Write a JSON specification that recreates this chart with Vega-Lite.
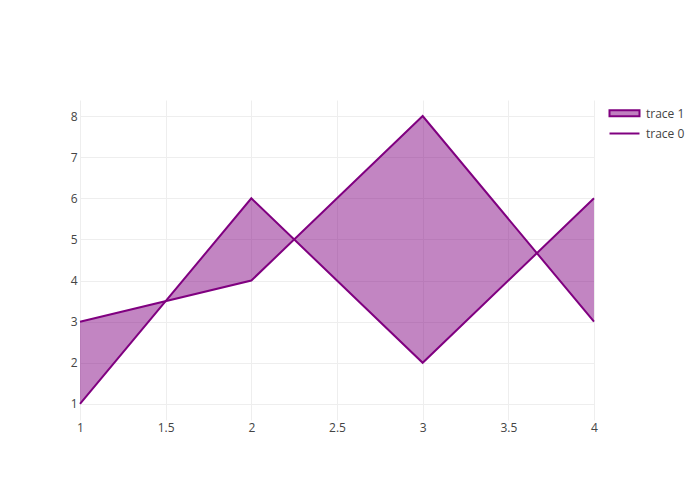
{
  "$schema": "https://vega.github.io/schema/vega-lite/v6.json",
  "width": 514,
  "height": 320,
  "autosize": {"type": "none"},
  "padding": {"left": 80, "top": 100, "right": 106, "bottom": 80},
  "background": "white",
  "config": {
    "view": {"stroke": null},
    "font": "Open Sans",
    "axis": {"labelFont": "Open Sans", "labelFontSize": 12, "labelColor": "#444", "gridColor": "#eeeeee", "gridWidth": 1, "domain": false, "ticks": false, "title": null, "labelFlush": false},
    "legend": {"labelFont": "Open Sans", "labelFontSize": 12, "labelColor": "#444"}
  },
  "data": {"values": [
    {"x": 1, "trace0": 3, "trace1": 1},
    {"x": 2, "trace0": 4, "trace1": 6},
    {"x": 3, "trace0": 8, "trace1": 2},
    {"x": 4, "trace0": 3, "trace1": 6}
  ]},
  "layer": [
    {
      "mark": {"type": "area", "color": "purple", "opacity": 0.48},
      "encoding": {
        "x": {"field": "x", "type": "quantitative", "scale": {"domain": [1, 4], "nice": false, "zero": false}, "axis": {"values": [1, 1.5, 2, 2.5, 3, 3.5, 4], "labelPadding": 2, "format": "~g"}},
        "y": {"field": "trace1", "type": "quantitative", "scale": {"domain": [0.61, 8.39], "nice": false, "zero": false}, "axis": {"values": [1, 2, 3, 4, 5, 6, 7, 8], "labelPadding": 3}},
        "y2": {"field": "trace0"}
      }
    },
    {
      "transform": [{"fold": ["trace0", "trace1"], "as": ["key", "val"]},
                    {"calculate": "datum.key === 'trace0' ? 'trace 0' : 'trace 1'", "as": "series"}],
      "mark": {"type": "line", "strokeWidth": 2},
      "encoding": {
        "x": {"field": "x", "type": "quantitative"},
        "y": {"field": "val", "type": "quantitative"},
        "detail": {"field": "series"},
        "color": {
          "field": "series", "type": "nominal",
          "scale": {"domain": ["trace 1", "trace 0"], "range": ["purple", "purple"]},
          "legend": {
            "title": null, "orient": "none", "legendX": 536, "legendY": 5,
            "symbolSize": 225, "symbolStrokeWidth": 2, "rowPadding": 4, "labelOffset": 13,
            "encode": {"symbols": {"update": {
              "shape": {"signal": "datum.value === 'trace 1' ? 'M-2,-0.45H2V0.35H-2Z' : 'M-2,0H2'"},
              "fill": {"signal": "datum.value === 'trace 1' ? '#c080c0' : 'transparent'"},
              "stroke": {"value": "purple"},
              "strokeWidth": {"value": 2}
            }}}
          }
        }
      }
    }
  ]
}
